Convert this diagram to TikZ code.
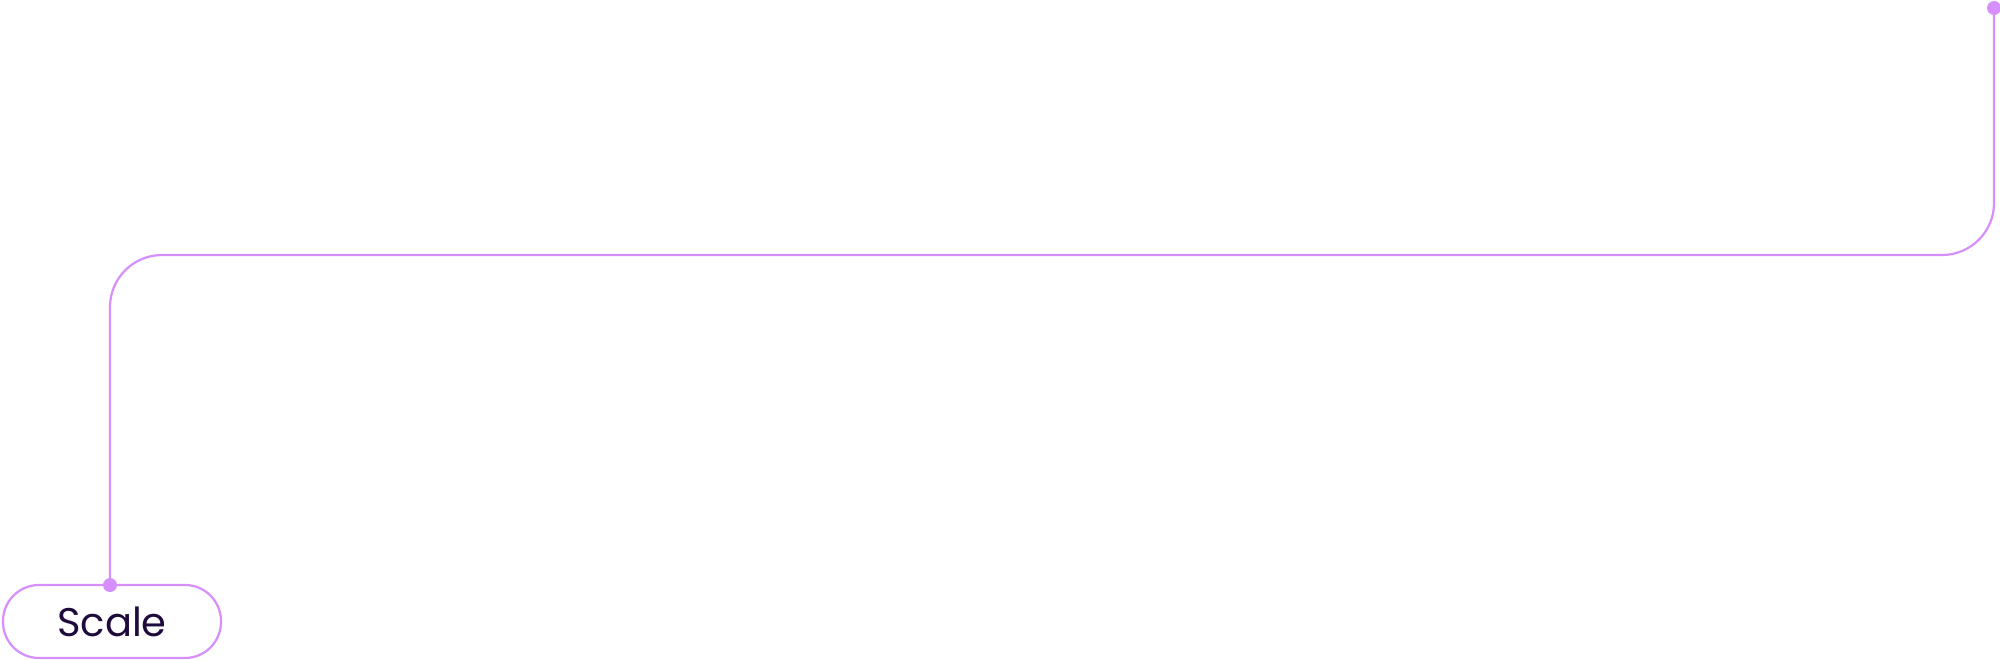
\documentclass[tikz,border=0pt]{standalone}
\usepackage{fontspec}
\setmainfont{Poppins}
\definecolor{linec}{HTML}{D68FFC}
\definecolor{textc}{HTML}{1E0B3B}
\begin{document}
\begin{tikzpicture}[x=0.5pt,y=-0.5pt,
  conn/.style={draw=linec,line width=1.1pt,rounded corners=26pt},
  pill/.style={draw=linec,line width=1.1pt,rounded corners=18pt,fill=white,
    minimum width=109pt,minimum height=36.5pt,inner sep=0pt},
  lbl/.style={font=\fontsize{20}{22}\selectfont,text=textc,inner sep=0pt},
  dotc/.style={circle,fill=linec,inner sep=0pt,minimum size=7pt}]
\useasboundingbox (0,0) rectangle (2000,659);
\node[pill] (scale) at (112,621.5) {};
\node[lbl,anchor=base] (scaletext) at (112,636) {Scale};
\coordinate (d1) at (110,585);
\coordinate (d2) at (1994,8);
\draw[conn] (d1) -- (110,255) -- (1994,255) -- (d2);
\node[dotc] (dot1) at (d1) {};
\node[dotc] (dot2) at (d2) {};
\end{tikzpicture}
\end{document}
